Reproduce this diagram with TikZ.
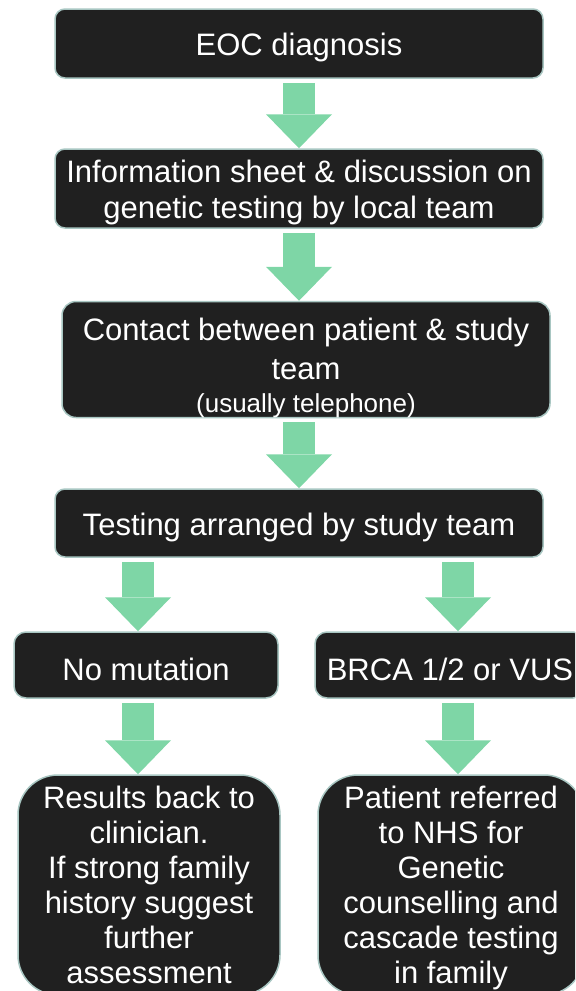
\documentclass[tikz,border=0pt]{standalone}
\usepackage{fontspec}
\setmainfont{Liberation Sans}
\usetikzlibrary{arrows.meta}
\definecolor{boxfill}{HTML}{202020}
\definecolor{boxedge}{HTML}{A8C6C2}
\definecolor{mint}{HTML}{7ED6A6}

\begin{document}
\begin{tikzpicture}[x=0.5pt,y=-0.5pt,
  stage/.style={draw=boxedge,line width=0.75pt,fill=boxfill,text=white,rounded corners=5pt,
    align=center,inner sep=0pt,font=\fontsize{15.5}{18}\selectfont},
  oneline/.style={stage,text height=15.3pt},
  fat/.style={mint,line width=16pt,shorten <=2pt,-{Triangle[width=33pt,length=17pt,line width=0pt]}}]
  \useasboundingbox (0,0) rectangle (575,991);
  \clip (0,0) rectangle (575,991);
  % main column
  \node[oneline,minimum width=244pt,minimum height=34.5pt] (eoc) at (299,43.5) {EOC diagnosis};
  \node[stage,minimum width=244pt,minimum height=39.5pt,text height=33.3pt] (info) at (299,188.5)
    {Information sheet \& discussion on\\genetic testing by local team};
  \node[stage,minimum width=244pt,minimum height=57.5pt,rounded corners=7pt,text height=55.3pt,
    font=\fontsize{15.5}{19.5}\selectfont] (cont) at (306,359.5)
    {Contact between patient \& study\\team\\[-3pt]{\fontsize{13}{16}\selectfont (usually telephone)}};
  \node[oneline,minimum width=244pt,minimum height=34pt] (test) at (299,523) {Testing arranged by study team};
  % two outcomes
  \node[oneline,minimum width=132pt,minimum height=33pt,rounded corners=6pt] (nomut) at (146,665) {No mutation};
  \node[oneline,minimum width=135pt,minimum height=33pt,rounded corners=6pt] (brca) at (450,665) {BRCA 1/2 or VUS};
  \node[stage,minimum width=131pt,minimum height=110pt,rounded corners=20pt,
    font=\fontsize{15.5}{17.5}\selectfont] (res) at (149,885)
    {Results back to\\clinician.\\If strong family\\history suggest\\further\\assessment};
  \node[stage,minimum width=133pt,minimum height=110pt,rounded corners=20pt,text depth=0pt,
    font=\fontsize{15.5}{17.5}\selectfont] (ref) at (451,885)
    {Patient referred\\to NHS for\\Genetic\\counselling and\\cascade testing\\in family};
  % block arrows
  \draw[fat] (eoc.south) -- (info.north);
  \draw[fat] (info.south) -- (info.south |- cont.north);
  \draw[fat] (test.north |- cont.south) -- (test.north);
  \draw[fat] ([xshift=-4pt]nomut.north |- test.south) -- ([xshift=-4pt]nomut.north);
  \draw[fat] ([xshift=4pt]brca.north |- test.south) -- ([xshift=4pt]brca.north);
  \draw[fat] ([xshift=-5.5pt]res.north |- nomut.south) -- ([xshift=-5.5pt]res.north);
  \draw[fat] ([xshift=3.5pt]ref.north |- brca.south) -- ([xshift=3.5pt]ref.north);
\end{tikzpicture}
\end{document}
